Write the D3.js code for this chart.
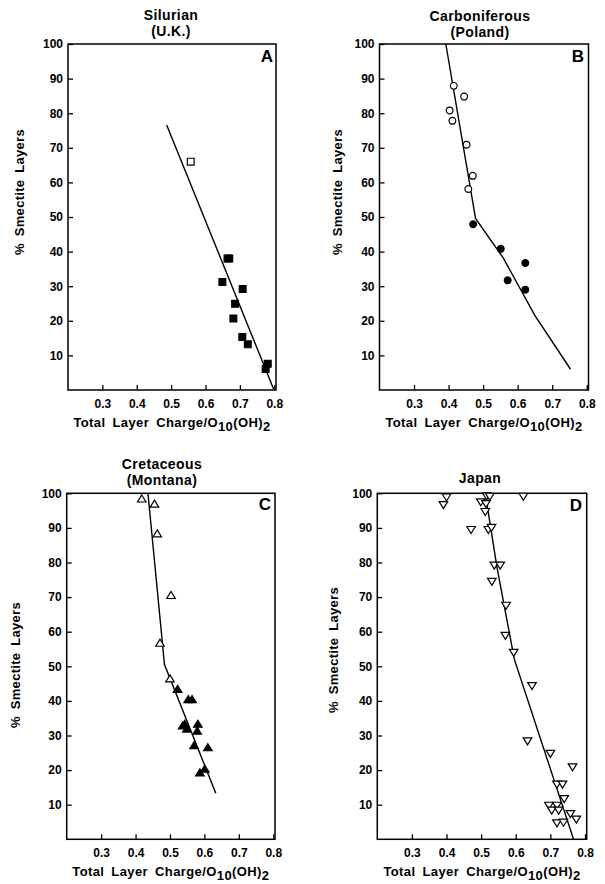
<!DOCTYPE html>
<html><head><meta charset="utf-8">
<script src="https://cdn.jsdelivr.net/npm/d3@7"></script>
<style>body{margin:0;background:#fff}svg{display:block}</style>
</head><body>
<svg id="chart" width="605" height="884"></svg>
<script>
// ---------- data ----------
const xTicks = [0.3, 0.4, 0.5, 0.6, 0.7, 0.8];
const yTicks = [10, 20, 30, 40, 50, 60, 70, 80, 90, 100];
const panelLetters = ["A", "B", "C", "D"];
const titleLine1 = ["Silurian", "Carboniferous", "Cretaceous", "Japan"];
const titleLine2 = ["(U.K.)", "(Poland)", "(Montana)", ""];
const xAxisTitle = ["Total Layer Charge/O", "10", "(OH)", "2"];
const yAxisTitle = "% Smectite Layers";

// Panel A: Silurian (U.K.)
const aOpenSquares = [[0.557, 66]];
const aFilledSquares = [[0.664, 38], [0.669, 38], [0.649, 31.2], [0.708, 29.2], [0.686, 24.9],
  [0.681, 20.7], [0.707, 15.3], [0.723, 13.2], [0.775, 6.1], [0.781, 7.6]];
const aLine = [[0.487, 76.6], [0.798, 0.3]];

// Panel B: Carboniferous (Poland)
const bOpenCircles = [[0.415, 87.9], [0.445, 84.8], [0.403, 80.8], [0.411, 77.8], [0.452, 70.9],
  [0.470, 61.9], [0.457, 58.1]];
const bFilledCircles = [[0.471, 47.9], [0.551, 40.8], [0.622, 36.7], [0.571, 31.7], [0.622, 29.0]];
const bLine = [[0.392, 100], [0.478, 49.6], [0.558, 38.2], [0.650, 21.5], [0.753, 6.0]];

// Panel C: Cretaceous (Montana)
const cOpenTriangles = [[0.418, 98.3], [0.455, 96.8], [0.463, 88.2], [0.503, 70.4], [0.471, 56.6], [0.500, 46.3]];
const cFilledTriangles = [[0.522, 43.3], [0.553, 40.3], [0.564, 40.3], [0.543, 33.2], [0.537, 32.7],
  [0.549, 31.8], [0.581, 33.2], [0.579, 31.2], [0.570, 27.0], [0.610, 26.4], [0.587, 19.1], [0.601, 20.2]];
const cLine = [[0.436, 100], [0.484, 50.5], [0.633, 13.3]];

// Panel D: Japan
const dInvTriangles = [[0.400, 99.0], [0.391, 96.8], [0.499, 97.6], [0.514, 97.1], [0.516, 99.3], [0.525, 99.2],
  [0.622, 99.2], [0.512, 94.8], [0.471, 89.6], [0.521, 89.6], [0.530, 90.2], [0.538, 79.3], [0.555, 79.3],
  [0.531, 74.6], [0.572, 67.7], [0.570, 59.0], [0.594, 54.1], [0.647, 44.5], [0.634, 28.5], [0.700, 24.9],
  [0.764, 21.0], [0.719, 16.0], [0.735, 16.0], [0.740, 11.8], [0.696, 9.9], [0.719, 9.9], [0.704, 8.5],
  [0.724, 8.5], [0.758, 7.5], [0.775, 5.9], [0.719, 4.8], [0.738, 5.0]];
const dLine = [[0.512, 100], [0.545, 79], [0.596, 52], [0.767, 0]];

// ---------- layout ----------
const panels = [
  {left: 68, right: 276, top: 44, bottom: 390, titleX: 171, t1: 19.5, t2: 35.5, letterX: 267, letterY: 62, ylabX: 19, ylabY: 192,
    series: [{d: aOpenSquares, sym: "square", fill: "#fff"}, {d: aFilledSquares, sym: "square", fill: "#000"}], line: aLine},
  {left: 379.5, right: 588.5, top: 44, bottom: 390, titleX: 480, t1: 20.5, t2: 36.5, letterX: 578, letterY: 62, ylabX: 337, ylabY: 192,
    series: [{d: bOpenCircles, sym: "circle", fill: "#fff"}, {d: bFilledCircles, sym: "circle", fill: "#000"}], line: bLine},
  {left: 66.7, right: 275, top: 493.3, bottom: 839.3, titleX: 162, t1: 469, t2: 485, letterX: 265, letterY: 510, ylabX: 15, ylabY: 665,
    series: [{d: cOpenTriangles, sym: "tri", fill: "#fff"}, {d: cFilledTriangles, sym: "tri", fill: "#000"}], line: cLine},
  {left: 377.3, right: 586.7, top: 493.3, bottom: 839.3, titleX: 480, t1: 483, t2: null, letterX: 576, letterY: 511, ylabX: 333, ylabY: 650,
    series: [{d: dInvTriangles, sym: "invtri", fill: "#fff"}], line: dLine}
];

const FONT = "'Liberation Sans', Arial, Helvetica, sans-serif";
const svg = d3.select("#chart");
svg.append("rect").attr("width", 605).attr("height", 884).attr("fill", "#fff");

function markerPath(sym) {
  if (sym === "square") return "M-3.4,-3.4H3.4V3.4H-3.4Z";
  if (sym === "circle") return d3.symbol(d3.symbolCircle, 36)();
  if (sym === "tri") return "M0,-4.2L4.3,2.8L-4.3,2.8Z";
  if (sym === "invtri") return "M0,4.2L4.3,-2.8L-4.3,-2.8Z";
}

panels.forEach((p, i) => {
  const x = d3.scaleLinear().domain([0.2, 0.805]).range([p.left, p.right]);
  const y = d3.scaleLinear().domain([0, 100]).range([p.bottom, p.top]);
  const g = svg.append("g");

  // x axis
  const xa = g.append("g").attr("transform", `translate(0,${p.bottom})`)
    .call(d3.axisBottom(x).tickValues(xTicks).tickFormat(d3.format(".1f")).tickSize(-5).tickPadding(9));
  // y axis
  const ya = g.append("g").attr("transform", `translate(${p.left},0)`)
    .call(d3.axisLeft(y).tickValues(yTicks).tickFormat(d3.format("d")).tickSize(-5).tickPadding(5));
  [xa, ya].forEach(a => {
    a.select(".domain").remove();
    a.selectAll(".tick line").attr("stroke", "#000").attr("stroke-width", 1.3);
    a.selectAll(".tick text").attr("fill", "#000").style("font-family", FONT)
      .style("font-weight", "bold").style("font-size", "12px");
  });

  // frame
  g.append("rect").attr("x", p.left).attr("y", p.top)
    .attr("width", p.right - p.left).attr("height", p.bottom - p.top)
    .attr("fill", "none").attr("stroke", "#000").attr("stroke-width", 1.5);

  // regression line
  g.append("path").datum(p.line)
    .attr("d", d3.line().x(d => x(d[0])).y(d => y(d[1])))
    .attr("fill", "none").attr("stroke", "#000").attr("stroke-width", 1.4);

  // markers
  p.series.forEach(s => {
    g.append("g").selectAll("path").data(s.d).join("path")
      .attr("transform", d => `translate(${x(d[0])},${y(d[1])})`)
      .attr("d", markerPath(s.sym))
      .attr("fill", s.fill).attr("stroke", "#000").attr("stroke-width", 1.2);
  });

  // titles
  g.append("text").attr("x", p.titleX).attr("y", p.t1).attr("text-anchor", "middle")
    .style("font-family", FONT).style("font-weight", "bold").style("font-size", "14px")
    .style("letter-spacing", "0.4px").text(titleLine1[i]);
  if (p.t2 !== null) {
    g.append("text").attr("x", p.titleX).attr("y", p.t2).attr("text-anchor", "middle")
      .style("font-family", FONT).style("font-weight", "bold").style("font-size", "14px")
      .style("letter-spacing", "0.4px").text(titleLine2[i]);
  }

  // panel letter
  g.append("text").attr("x", p.letterX).attr("y", p.letterY).attr("text-anchor", "middle")
    .style("font-family", FONT).style("font-weight", "bold").style("font-size", "17px").text(panelLetters[i]);

  // x axis title
  const xt = g.append("text").attr("x", (p.left + p.right) / 2).attr("y", p.bottom + 37)
    .attr("text-anchor", "middle").style("font-family", FONT).style("font-weight", "bold")
    .style("font-size", "13px").style("letter-spacing", "0.4px").style("word-spacing", "3px");
  xt.append("tspan").text(xAxisTitle[0]);
  xt.append("tspan").attr("dy", 4).text(xAxisTitle[1]);
  xt.append("tspan").attr("dy", -4).text(xAxisTitle[2]);
  xt.append("tspan").attr("dy", 4).text(xAxisTitle[3]);

  // y axis title
  g.append("text").attr("transform", `translate(${p.ylabX},${p.ylabY}) rotate(-90)`)
    .attr("text-anchor", "middle").attr("dominant-baseline", "central")
    .style("font-family", FONT).style("font-weight", "bold").style("font-size", "13px")
    .style("letter-spacing", "0.3px").style("word-spacing", "3px").text(yAxisTitle);
});
</script>
</body></html>
